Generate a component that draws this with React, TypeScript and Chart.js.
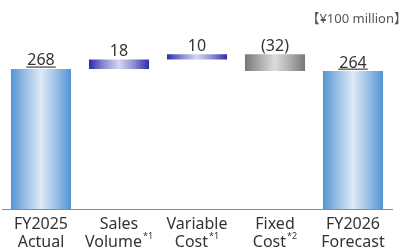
import React, { useEffect, useRef } from "react";
import { Chart, registerables } from "chart.js";

Chart.register(...registerables);

const categoryLines: string[][] = [
  ["FY2025", "Actual"],
  ["Sales", "Volume"],
  ["Variable", "Cost"],
  ["Fixed", "Cost"],
  ["FY2026", "Forecast"],
];
const footnotes: string[] = ["", "*1", "*1", "*2", ""];
const changes: number[] = [268, 18, 10, -32, 264];
const kinds: string[] = ["total", "delta", "delta", "delta", "total"];
const valueLabels: string[] = ["268", "18", "10", "(32)", "264"];
const unitLabel = "【¥100 million】";

const FONT = "'Noto Sans', 'Noto Sans CJK JP', sans-serif";

function buildRanges(): [number, number][] {
  let run = 0;
  return changes.map((v, i) => {
    if (kinds[i] === "total") {
      run = v;
      return [0, v];
    }
    const start = run;
    run += v;
    return [Math.min(start, run), Math.max(start, run)];
  });
}

const palettes: Record<string, string[]> = {
  blue: ["#5393d3", "#9cc1e7", "#dfeaf6", "#9cc1e7", "#5393d3"],
  purple: ["#2d2daa", "#8c8cd2", "#d6d6f2", "#8c8cd2", "#2d2daa"],
  gray: ["#777777", "#adadad", "#dcdcdc", "#adadad", "#777777"],
};
function paletteFor(i: number): string {
  if (kinds[i] === "total") return "blue";
  return changes[i] < 0 ? "gray" : "purple";
}

const overlayPlugin = {
  id: "overlay",
  afterDatasetsDraw(chart: any) {
    const ctx = chart.ctx;
    const meta = chart.getDatasetMeta(0);
    const xs = chart.scales.x;
    ctx.save();
    // value labels
    ctx.font = `16px ${FONT}`;
    ctx.fillStyle = "#333333";
    ctx.textAlign = "center";
    ctx.textBaseline = "alphabetic";
    meta.data.forEach((bar: any, i: number) => {
      const top = Math.min(bar.y, bar.base);
      const y = top - 3.5;
      ctx.fillText(valueLabels[i], bar.x, y);
      if (kinds[i] === "total") {
        const w = ctx.measureText(valueLabels[i]).width;
        ctx.fillStyle = "#444444";
        ctx.fillRect(bar.x - w / 2 - 1, y + 1, w + 2, 1.2);
        ctx.fillStyle = "#333333";
      }
    });
    // category labels
    categoryLines.forEach((lines, i) => {
      const cx = xs.getPixelForValue(i);
      lines.forEach((line, j) => {
        const y = 224 + j * 18;
        const fn = j === lines.length - 1 ? footnotes[i] : "";
        ctx.font = `16px ${FONT}`;
        const w = ctx.measureText(line).width;
        ctx.font = `9px ${FONT}`;
        const fw = fn ? ctx.measureText(fn).width + 1 : 0;
        const start = cx - (w + fw) / 2;
        ctx.font = `16px ${FONT}`;
        ctx.textAlign = "left";
        ctx.textBaseline = "middle";
        ctx.fillStyle = "#333333";
        ctx.fillText(line, start, y);
        if (fn) {
          ctx.font = `9px ${FONT}`;
          ctx.fillText(fn, start + w + 1, y - 6);
        }
      });
    });
    // unit label
    ctx.font = `13px ${FONT}`;
    ctx.fillStyle = "#555555";
    ctx.textAlign = "right";
    ctx.textBaseline = "middle";
    ctx.fillText(unitLabel, 407, 19);
    ctx.restore();
  },
};

export default function App() {
  const ref = useRef<HTMLCanvasElement>(null);
  useEffect(() => {
    if (!ref.current) return;
    const ranges = buildRanges();
    const barPct = 0.77;
    const chart = new Chart(ref.current, {
      type: "bar",
      data: {
        labels: categoryLines.map((l) => l.join(" ")),
        datasets: [
          {
            data: ranges as any,
            barPercentage: barPct,
            categoryPercentage: 1,
            borderWidth: 0,
            borderSkipped: false,
            backgroundColor: (c: any) => {
              const chart = c.chart;
              const area = chart.chartArea;
              const stops = palettes[paletteFor(c.dataIndex)];
              if (!area) return stops[0];
              const xs = chart.scales.x;
              const cx = xs.getPixelForValue(c.dataIndex);
              const w = ((area.right - area.left) / categoryLines.length) * barPct;
              const g = chart.ctx.createLinearGradient(cx - w / 2, 0, cx + w / 2, 0);
              stops.forEach((s: string, k: number) => g.addColorStop(k / (stops.length - 1), s));
              return g;
            },
          },
        ],
      },
      options: {
        animation: false,
        responsive: false,
        maintainAspectRatio: false,
        layout: { padding: { left: 2, right: 17, top: 0, bottom: 38 } },
        plugins: { legend: { display: false }, tooltip: { enabled: false } },
        scales: {
          x: {
            display: true,
            grid: { display: false, drawTicks: false },
            border: { display: true, color: "#8a8a8a", width: 1 },
            ticks: { display: false },
          },
          y: {
            display: false,
            min: 0,
            max: 400,
          },
        },
      },
      plugins: [overlayPlugin],
    });
    return () => chart.destroy();
  }, []);
  return (
    <div style={{ position: "fixed", left: 0, top: 0, width: 409, height: 247, background: "#fff" }}>
      <canvas ref={ref} width={409} height={247} style={{ width: 409, height: 247 }} />
    </div>
  );
}
